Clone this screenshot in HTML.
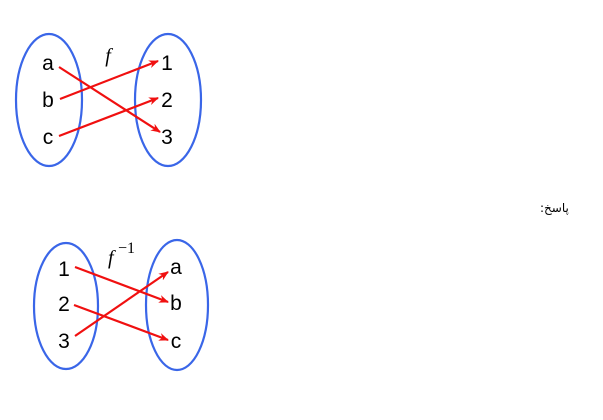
<!DOCTYPE html>
<html><head><meta charset="utf-8"><style>
html,body{margin:0;padding:0;background:#fff;width:603px;height:420px;overflow:hidden}
</style></head><body>
<svg width="603" height="420" xmlns="http://www.w3.org/2000/svg" style="position:absolute;left:0;top:0">
<defs><marker id="ah" markerWidth="10" markerHeight="8" refX="9" refY="4" orient="auto" markerUnits="userSpaceOnUse">
<path d="M0,0 L10,4 L0,8 L3,4 Z" fill="#f01010"/></marker></defs>
<g fill="none" stroke="#3a66e8" stroke-width="2.2">
<ellipse cx="49" cy="100" rx="33" ry="66"/>
<ellipse cx="168" cy="100" rx="33" ry="66"/>
<ellipse cx="66" cy="306" rx="32" ry="63"/>
<ellipse cx="177" cy="305" rx="31" ry="65"/>
</g>
<g font-family="Liberation Sans, sans-serif" font-size="21" fill="#000" text-anchor="middle">
<text x="48" y="70">a</text><text x="48" y="107">b</text><text x="48" y="144">c</text>
<text x="167" y="70">1</text><text x="167" y="107">2</text><text x="167" y="144">3</text>
<text x="64" y="276">1</text><text x="64" y="311">2</text><text x="64" y="348">3</text>
<text x="176" y="274">a</text><text x="176" y="310">b</text><text x="176" y="348">c</text>
</g>
<text x="108" y="62" font-family="Liberation Serif, serif" font-style="italic" font-size="20" text-anchor="middle">f</text>
<text x="108" y="264" font-family="Liberation Serif, serif" font-style="italic" font-size="20">f</text>
<text x="118" y="253" font-family="Liberation Serif, serif" font-size="16">−1</text>
<g stroke="#f01010" stroke-width="2.2" marker-end="url(#ah)">
<line x1="59" y1="67" x2="160" y2="132"/>
<line x1="60" y1="99" x2="158" y2="61"/>
<line x1="59" y1="136" x2="158" y2="98"/>
<line x1="75" y1="267" x2="168" y2="302"/>
<line x1="74" y1="305" x2="168" y2="340"/>
<line x1="75" y1="336" x2="168" y2="272"/>
</g>
<text x="540" y="212" font-family="DejaVu Sans, sans-serif" font-size="12" text-anchor="end" direction="rtl">پاسخ:</text>
</svg>
</body></html>
